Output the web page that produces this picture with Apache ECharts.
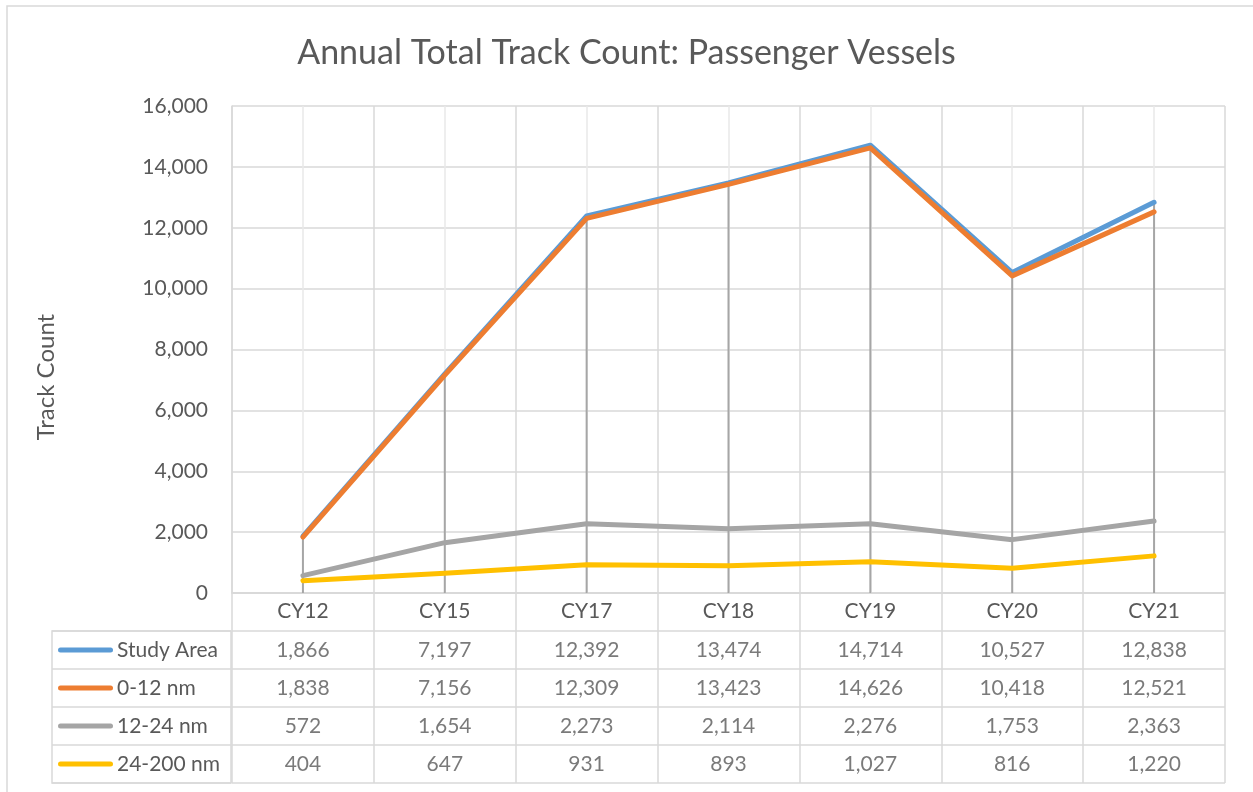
<!DOCTYPE html>
<html>
<head>
<meta charset="utf-8">
<script src="https://cdn.jsdelivr.net/npm/echarts@6/dist/echarts.min.js"></script>
<style>
  html, body { margin: 0; padding: 0; background: #fff; }
  #chart { width: 1253px; height: 792px; }
</style>
</head>
<body>
<div id="chart"></div>
<script>
// 数据
var years = ["CY12", "CY15", "CY17", "CY18", "CY19", "CY20", "CY21"];
var seriesNames = ["Study Area", "0-12 nm", "12-24 nm", "24-200 nm"];
var studyArea = [1866, 7197, 12392, 13474, 14714, 10527, 12838];
var nm0to12 = [1838, 7156, 12309, 13423, 14626, 10418, 12521];
var nm12to24 = [572, 1654, 2273, 2114, 2276, 1753, 2363];
var nm24to200 = [404, 647, 931, 893, 1027, 816, 1220];
var yTicks = [0, 2000, 4000, 6000, 8000, 10000, 12000, 14000, 16000];

var colors = ["#5b9bd5", "#ed7d31", "#a5a5a5", "#ffc000"];
var allSeries = [studyArea, nm0to12, nm12to24, nm24to200];
var txt = "#595959";
var gridLine = "#d9d9d9";
var font = "Lato";
var fs = 21; // 刻度、表格文字大小

var fmt = function(v) { return Number(v).toLocaleString("en-US"); };

// 表格单元格数据：[列, 行, 值]
var tableCells = [];
allSeries.forEach(function(arr, r) {
    arr.forEach(function(v, c) {
        tableCells.push([c, seriesNames[r], v]);
    });
});

// 图例的 rich 样式
var rich = {};
colors.forEach(function(c, i) {
    rich["k" + i] = { backgroundColor: c, width: 55, height: 5, borderRadius: 3 };
});
rich.t = { color: txt, fontSize: fs, fontFamily: font, padding: [0, 0, 0, 4] };

var chart = echarts.init(document.getElementById("chart"));

// 后面的系列画在上面（与 Excel 一致）
var lineSeries = allSeries.map(function(arr, i) {
    return {
        name: seriesNames[i],
        type: "line",
        xAxisIndex: 0,
        yAxisIndex: 0,
        data: arr,
        symbol: "none",
        lineStyle: { color: colors[i], width: 5, cap: "round", join: "round" },
        itemStyle: { color: colors[i] },
        z: 3 + i,
        silent: true
    };
});

chart.setOption({
    animation: false,
    backgroundColor: "#fff",
    title: {
        text: "Annual Total Track Count: Passenger Vessels",
        left: "center",
        top: 31,
        textStyle: { color: txt, fontSize: 34, fontWeight: "normal", fontFamily: font }
    },
    graphic: [
        {
            type: "rect",
            shape: { x: 7, y: 6, width: 1260, height: 800 },
            style: { fill: "none", stroke: gridLine, lineWidth: 1.5 },
            silent: true
        },
        {
            // 纵轴标题
            type: "text",
            x: 46,
            y: 377,
            rotation: Math.PI / 2,
            style: {
                text: "Track Count",
                fill: txt,
                font: "24px Lato",
                align: "center",
                verticalAlign: "middle"
            },
            silent: true
        }
    ],
    grid: [
        { left: 232, right: 28, top: 106, height: 487, outerBoundsMode: "none" },
        { left: 232, right: 28, top: 593, height: 190, outerBoundsMode: "none" },
        { left: 52, width: 179, top: 631, height: 152, outerBoundsMode: "none",
          show: true, borderColor: gridLine, borderWidth: 1.5 }
    ],
    xAxis: [
        {
            gridIndex: 0,
            type: "category",
            data: years,
            boundaryGap: true,
            axisLine: { lineStyle: { color: gridLine, width: 1.5 } },
            axisTick: { show: false },
            axisLabel: { color: txt, fontSize: fs, fontFamily: font, margin: 8 },
            splitLine: { show: true, lineStyle: { color: gridLine, width: 1.5 } }
        },
        {
            gridIndex: 1,
            type: "category",
            data: years,
            boundaryGap: true,
            axisLine: { show: false },
            axisTick: { show: false },
            axisLabel: { show: false },
            splitLine: { show: true, lineStyle: { color: gridLine, width: 1.5 } }
        },
        {
            gridIndex: 2,
            type: "category",
            data: [""],
            axisLine: { show: false },
            axisTick: { show: false },
            axisLabel: { show: false },
            splitLine: { show: false }
        }
    ],
    yAxis: [
        {
            gridIndex: 0,
            type: "value",
            min: yTicks[0],
            max: yTicks[yTicks.length - 1],
            interval: yTicks[1] - yTicks[0],
            axisLine: { show: true, lineStyle: { color: gridLine, width: 1.5 } },
            axisTick: { show: false },
            axisLabel: { color: txt, fontSize: fs, fontFamily: font, margin: 24, formatter: fmt },
            splitLine: { show: true, lineStyle: { color: gridLine, width: 1.5 } }
        },
        {
            gridIndex: 1,
            type: "category",
            data: [""].concat(seriesNames),
            inverse: true,
            axisLine: { show: false },
            axisTick: { show: false },
            axisLabel: { show: false },
            splitLine: { show: true, lineStyle: { color: gridLine, width: 1.5 } }
        },
        {
            gridIndex: 2,
            type: "category",
            data: seriesNames,
            inverse: true,
            axisLine: { show: false },
            axisTick: { show: false },
            axisLabel: {
                align: "left",
                margin: -6,
                formatter: function(v) {
                    var i = seriesNames.indexOf(v);
                    return "{k" + i + "|}{t|" + v + "}";
                },
                rich: rich
            },
            splitLine: { show: true, lineStyle: { color: gridLine, width: 1.5 } }
        }
    ],
    series: [
        {
            // 类别中心的浅色网格线
            type: "line",
            xAxisIndex: 0,
            yAxisIndex: 0,
            data: [],
            silent: true,
            markLine: {
                symbol: "none",
                silent: true,
                z: 1,
                label: { show: false },
                lineStyle: { color: "#e8e8e8", width: 1.5, type: "solid" },
                data: years.map(function(y) { return { xAxis: y }; })
            },
            z: 1
        },
        {
            // 垂直线（drop lines）
            type: "bar",
            xAxisIndex: 0,
            yAxisIndex: 0,
            data: studyArea,
            barWidth: 2,
            itemStyle: { color: "#a6a6a6" },
            silent: true,
            z: 2
        }
    ].concat(lineSeries).concat([
        {
            // 数据表
            type: "scatter",
            xAxisIndex: 1,
            yAxisIndex: 1,
            data: tableCells,
            symbolSize: 0,
            silent: true,
            label: {
                show: true,
                position: "inside",
                color: txt,
                fontSize: fs,
                fontFamily: font,
                formatter: function(p) { return fmt(p.value[2]); }
            }
        }
    ])
});
</script>
</body>
</html>
